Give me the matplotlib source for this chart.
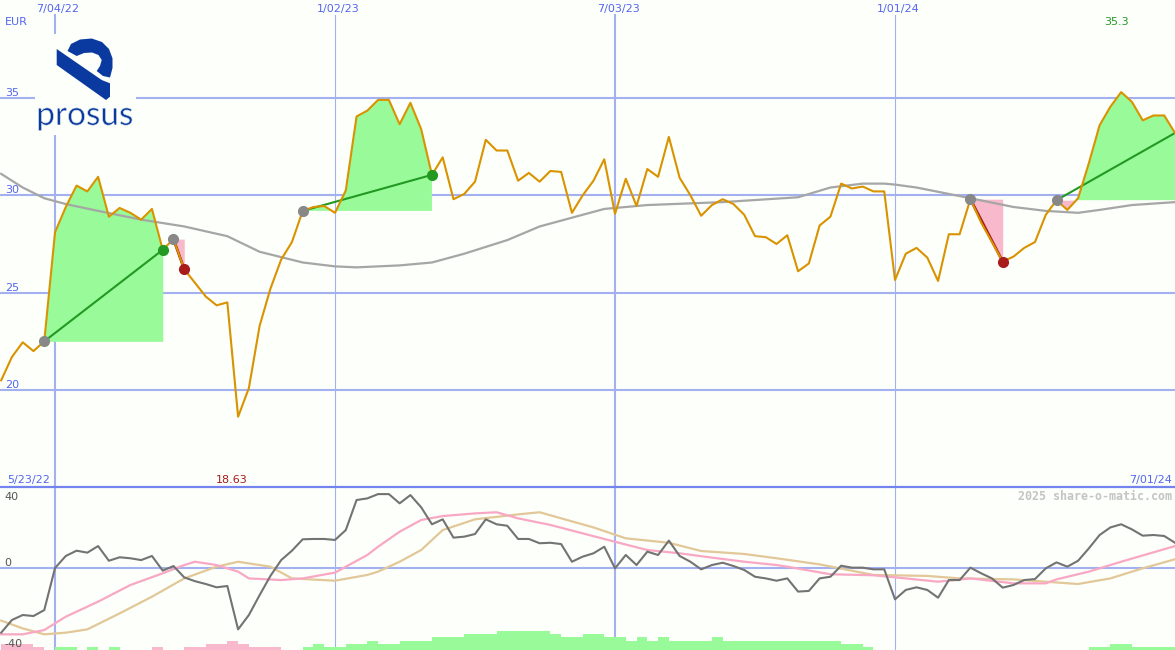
import numpy as np
import pandas as pd
import matplotlib
matplotlib.use("Agg")
import matplotlib.pyplot as plt
import matplotlib.patheffects as pe
from matplotlib.patches import Polygon, Rectangle

# weekly closes, Prosus (EUR)
weeks = pd.date_range("2022-05-30", periods=110, freq="7D")
price = [20.5, 21.7, 22.45, 22.0, 22.5, 28.1, 29.4, 30.5, 30.2, 30.95,
         28.9, 29.35, 29.1, 28.75, 29.3, 27.2, 27.75, 26.2, 25.5, 24.8,
         24.35, 24.5, 18.63, 20.1, 23.3, 25.2, 26.7, 27.6, 29.2, 29.4,
         29.45, 29.1, 30.25, 34.05, 34.35, 34.9, 34.9, 33.65, 34.75, 33.4,
         31.05, 31.95, 29.8, 30.07, 30.7, 32.85, 32.3, 32.3, 30.75, 31.15,
         30.7, 31.25, 31.2, 29.1, 30.0, 30.75, 31.85, 29.05, 30.85, 29.45,
         31.35, 30.95, 33.0, 30.9, 30.0, 28.95, 29.5, 29.8, 29.55, 29.0,
         27.9, 27.85, 27.5, 27.95, 26.1, 26.5, 28.45, 28.9, 30.6, 30.35,
         30.45, 30.2, 30.2, 25.65, 27.0, 27.3, 26.8, 25.6, 28.0, 28.0,
         29.8, 28.6, 27.6, 26.6, 26.85, 27.3, 27.6, 29.0, 29.75, 29.25,
         29.85, 31.65, 33.6, 34.55, 35.3, 34.8, 33.85, 34.1, 34.1, 33.2]

# long moving average, read at a few weeks
ma_weeks = [0, 2, 4, 6, 9, 13, 17, 21, 24, 28, 31, 33, 37, 40, 43, 47, 50, 54,
            56, 60, 67, 74, 77, 80, 82, 83, 85, 90, 94, 97, 100, 102, 105, 109]
ma_values = [31.1, 30.4, 29.85, 29.55, 29.2, 28.75, 28.4, 27.9, 27.1, 26.55,
             26.35, 26.3, 26.4, 26.55, 27.0, 27.7, 28.4, 29.0, 29.3, 29.5,
             29.65, 29.9, 30.4, 30.6, 30.6, 30.55, 30.4, 29.85, 29.4, 29.2,
             29.1, 29.25, 29.5, 29.65]

# oscillator panel
momentum = [-39.2, -31.5, -28.5, -29.1, -25.5, 0, 7.3, 10.5, 9.3, 13.3,
            4.4, 6.5, 5.9, 4.8, 7.3, -1.6, 1.2, -5.7, -8.0, -9.7,
            -11.7, -10.9, -37.2, -28.5, -16.4, -4.8, 4.8, 10.5, 17.4, 17.6,
            17.6, 17.0, 23.0, 41.2, 42.2, 44.8, 44.8, 39.2, 44.2, 36.8,
            26.5, 29.5, 18.4, 19.0, 20.6, 29.5, 26.5, 25.6, 17.6, 17.6,
            15.0, 15.3, 14.5, 3.8, 6.9, 8.9, 12.9, -0.2, 7.9, 1.8,
            9.9, 7.9, 16.6, 7.3, 3.8, -0.8, 1.8, 3.2, 1.2, -1.2,
            -5.3, -6.3, -7.7, -6.3, -14.3, -13.9, -6.3, -5.3, 1.4, 0.2,
            0.2, -0.8, -0.8, -19.0, -13.3, -11.7, -13.3, -18.0, -7.3, -7.3,
            0.2, -3.2, -6.3, -11.9, -10.3, -7.3, -6.7, -0.2, 3.4, 0.8,
            4.4, 11.9, 20.0, 24.6, 26.5, 23.4, 19.6, 20.0, 19.4, 15.3]
fast_weeks = [0, 2, 4, 6, 9, 12, 15, 17, 18, 20, 22, 23, 26, 28, 31, 34, 35,
              37, 39, 41, 44, 46, 48, 51, 54, 57, 60, 63, 66, 69, 72, 73, 77,
              81, 84, 87, 90, 94, 97, 98, 101, 104, 109]
fast_values = [-40.2, -40.2, -37.6, -29.5, -20.4, -10.3, -3.2, 1.8, 3.8, 1.8,
               -2.2, -6.3, -7.3, -6.3, -2.8, 7.9, 12.9, 22.0, 29.1, 31.5,
               33.1, 33.8, 30.1, 26.1, 21.0, 15.9, 10.9, 8.9, 6.3, 3.8,
               1.8, 0.8, -3.8, -4.4, -6.3, -8.3, -6.3, -9.3, -9.3, -6.9,
               -2.2, 3.8, 13.3]
slow_weeks = [0, 2, 4, 6, 8, 11, 14, 17, 20, 22, 25, 27, 31, 34, 35, 37, 39,
              41, 44, 48, 50, 52, 55, 58, 62, 65, 69, 72, 76, 81, 86, 89, 94,
              97, 100, 103, 106, 109]
slow_values = [-31.9, -36.6, -40.2, -39.2, -37.2, -27.5, -17.4, -6.3, 0.8, 3.8,
               0.8, -6.3, -7.7, -4.2, -2.2, 3.8, 10.9, 23.0, 29.5, 32.5,
               33.8, 30.1, 24.6, 18.0, 15.3, 10.3, 8.5, 5.9, 2.2, -4.2,
               -4.8, -6.3, -6.9, -8.3, -9.7, -6.3, -0.2, 5.3]
hist_levels = ([-2, -2, -2, -1, 0, 1, 1, 0, 1, 0, 1, 0, 0, 0, -1, 0, 0, -1, -1, -2,
                -2, -3, -2, -1, -1, -1, 0, 0, 1, 2, 1, 1, 2, 2, 3, 2, 2, 3, 3, 3,
                4, 4, 4, 5, 5, 5, 6, 6, 6, 6, 6, 5, 4, 4, 5, 5, 4, 4, 3, 4,
                3, 4, 3, 3, 3, 3, 4] + [3] * 11 + [2, 2, 1] + [0] * 20
               + [1, 1, 2, 2, 1, 1, 1, 1, 1])

# (entry week, exit week); the last one is still open
trades = [(4, 15), (16, 17), (28, 40), (90, 93), (98, 109)]
grid_dates = ["2022-07-04", "2023-01-02", "2023-07-03", "2024-01-01"]
price_ticks = [20, 25, 30, 35]
osc_ticks = [40, 0, -40]
left_label = "5/23/22"

BG = "#FCFFFA"
GRID = "#A3B1F0"
TXT = "#5565F0"
ORANGE = "#D99300"
GREEN = "#229A22"
RED = "#A81C1C"

x = np.arange(len(weeks))
p = np.array(price)

fig = plt.figure(figsize=(11.75, 6.5), dpi=100, facecolor=BG)
ax = fig.add_axes([0, 163 / 650, 1, 487 / 650], facecolor=BG)
bx = fig.add_axes([0, 0, 1, 163 / 650], facecolor=BG)

for a in (ax, bx):
    a.set_xlim(-0.11, 109.0)
    a.set_xticks([])
    a.set_yticks([])
    for s in a.spines.values():
        s.set_visible(False)
ax.set_ylim(15.02, 40.03)
bx.set_ylim(-49.7, 49.1)
bx.spines["top"].set_visible(True)
bx.spines["top"].set_color("#7484EE")
bx.spines["top"].set_linewidth(1.6)

# grid
for v in price_ticks:
    ax.axhline(v, color=GRID, lw=1.5, zorder=1)
    ax.annotate(str(v), (0, v), xycoords=ax.get_yaxis_transform(),
                xytext=(5, 2), textcoords="offset pixels", va="baseline",
                ha="left", fontsize=8, color=TXT)
bx.axhline(0, color=GRID, lw=1.5, zorder=1)
for d in grid_dates:
    t = pd.Timestamp(d)
    i = weeks.get_loc(t)
    lw = 1.5 if t.month == 7 else 0.8
    ax.axvline(i, ymax=1 - 15 / 487, color=GRID, lw=lw, zorder=1)
    bx.axvline(i, color=GRID, lw=lw, zorder=1)
    ax.annotate(f"{t.month}/{t.day:02d}/{t.year % 100}", (i, 1 - 12 / 487),
                xycoords=ax.get_xaxis_transform(), xytext=(3, 0),
                textcoords="offset pixels", ha="center", va="baseline",
                fontsize=8, color=TXT)

ax.text(0.0045, 1 - 25 / 487, "EUR", transform=ax.transAxes, va="baseline",
        fontsize=8, color=TXT)
ax.text(0.006, 4 / 487, left_label, transform=ax.transAxes, va="baseline",
        fontsize=8, color=TXT)
t = weeks[-1]
ax.text(0.9975, 4 / 487, f"{t.month}/{t.day:02d}/{t.year % 100}",
        transform=ax.transAxes, va="baseline", ha="right", fontsize=8, color=TXT)

# trades
for a, b in trades:
    xs, ps, base = x[a:b + 1], p[a:b + 1], p[a]
    ax.fill_between(xs, base, ps, where=ps >= base, interpolate=True,
                    color="#98FA98", lw=0, zorder=2)
    ax.fill_between(xs, base, ps, where=ps <= base, interpolate=True,
                    color="#F9B9CD", lw=0, zorder=2)
    win = p[b] >= base
    ax.plot([a, b], [base, p[b]], color=GREEN if win else RED,
            lw=1.5 if win else 2, zorder=4)

ax.plot(ma_weeks, ma_values, color="#A6A6A6", lw=1.6, zorder=3)
ax.plot(x, p, color=ORANGE, lw=1.5, zorder=5)

for k, (a, b) in enumerate(trades):
    ax.plot(a, p[a], "o", color="#888888", ms=7, zorder=6)
    if k < len(trades) - 1:
        ax.plot(b, p[b], "o", color=GREEN if p[b] >= p[a] else RED,
                ms=7, zorder=6)

hi, lo = int(np.argmax(p)), int(np.argmin(p))
ax.annotate(f"{p[hi]:.1f}", (hi, 1 - 25 / 487),
            xycoords=ax.get_xaxis_transform(), xytext=(-5, 0),
            textcoords="offset pixels", ha="center", va="baseline",
            fontsize=8, color=GREEN)
ax.annotate(f"{p[lo]:.2f}", (lo, 4 / 487),
            xycoords=ax.get_xaxis_transform(), xytext=(-6, 0),
            textcoords="offset pixels", ha="center", va="baseline",
            fontsize=8, color=RED)

# oscillator panel
lev = np.array(hist_levels)
bx.bar(x, np.abs(lev) * 1.9, bottom=-49.7, width=1.0, align="edge",
       color=np.where(lev >= 0, "#98FA98", "#F9B9CD"), lw=0, zorder=2)
bx.plot(slow_weeks, slow_values, color="#E2C898", lw=1.6, zorder=3)
bx.plot(fast_weeks, fast_values, color="#F8A8C4", lw=1.6, zorder=3)
bx.plot(x, momentum, color="#737373", lw=1.5, zorder=4)
for v in osc_ticks:
    off = 2 if v >= 0 else -13
    bx.annotate(str(v), (0, v), xycoords=bx.get_yaxis_transform(),
                xytext=(4, off), textcoords="offset pixels", va="baseline",
                ha="left", fontsize=8, color="#555555")
bx.text(0.9975, 1 - 13 / 163, "2025 share-o-matic.com", transform=bx.transAxes,
        ha="right", va="baseline", fontsize=8.4, color="#C4C4C4",
        family="DejaVu Sans Mono", fontweight="bold")

# logo
lx = fig.add_axes([0, 0, 1, 1])
lx.set_xlim(0, 1175)
lx.set_ylim(650, 0)
lx.axis("off")
lx.add_patch(Rectangle((35, 34), 101, 101, color=BG, lw=0))
blue = "#0A3AA0"
lx.add_patch(Polygon([(56.7, 49), (101.7, 80), (110, 83.3), (110, 96.7),
                      (106, 100), (56.7, 65)], closed=True, color=blue, lw=0))
lx.add_patch(Polygon([(67.5, 51), (71, 44), (80, 39.5), (91.7, 38.5),
                      (102, 42), (109, 49), (112.5, 58.3), (112.5, 68),
                      (110, 77.5), (103, 76), (96.7, 71), (100, 66),
                      (101.7, 60), (98.5, 55), (92, 52.5), (84, 53),
                      (76.7, 56)], closed=True, color=blue, lw=0))
lx.text(85, 125, "prosus", ha="center", va="baseline", fontsize=24,
        family="Lato", color=blue,
        path_effects=[pe.Normal(), pe.Stroke(linewidth=0.45, foreground=BG)])

fig.savefig("out.png", dpi=100, facecolor=BG)
